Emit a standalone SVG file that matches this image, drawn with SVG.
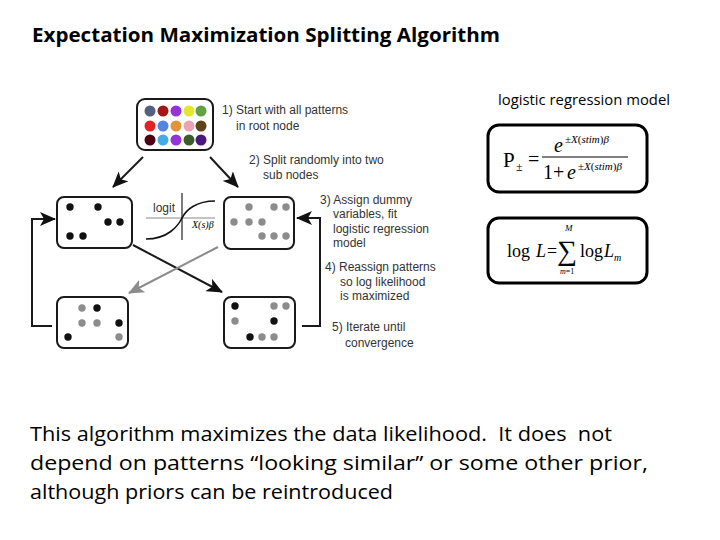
<svg xmlns="http://www.w3.org/2000/svg" width="720" height="540" viewBox="0 0 720 540">
<defs>
<style>
.node{fill:#fff;stroke:#1a1a1a;stroke-width:2}
.lbl{font-family:"Liberation Sans",Arial,sans-serif;font-size:12px;fill:#333}
.k{fill:#111}
.g{fill:#8c8c8c}
.fbox{fill:#fff;stroke:#000;stroke-width:3}
.math{font-family:"Liberation Serif","Times New Roman",serif;fill:#000}
.ital{font-style:italic}
.cb{font-family:"Open Sans",Lato,sans-serif;fill:#000}
.line{fill:none;stroke:#1a1a1a;stroke-width:2}
.gline{fill:none;stroke:#8c8c8c;stroke-width:2}
</style>
<marker id="ah" markerUnits="userSpaceOnUse" markerWidth="16" markerHeight="14" refX="15" refY="7" orient="auto" viewBox="0 0 16 14">
<path d="M0,0 L16,7 L0,14 L4,7 z" fill="#111"/>
</marker>
<marker id="ahg" markerUnits="userSpaceOnUse" markerWidth="16" markerHeight="14" refX="15" refY="7" orient="auto" viewBox="0 0 16 14">
<path d="M0,0 L16,7 L0,14 L4,7 z" fill="#8c8c8c"/>
</marker>
</defs>
<rect width="720" height="540" fill="#fff"/>

<text class="cb" x="32" y="42" font-size="19" font-weight="bold" textLength="468" lengthAdjust="spacingAndGlyphs">Expectation Maximization Splitting Algorithm</text>

<g id="root">
<rect class="node" x="137" y="99" width="76" height="51" rx="8"/>
<circle cx="150" cy="111" r="5.5" fill="#556080"/>
<circle cx="163" cy="111" r="5.5" fill="#a01818"/>
<circle cx="176" cy="111" r="5.5" fill="#9434d4"/>
<circle cx="189" cy="111" r="5.5" fill="#e6e632"/>
<circle cx="201" cy="111" r="5.5" fill="#64a044"/>
<circle cx="150" cy="126" r="5.5" fill="#e02424"/>
<circle cx="163" cy="126" r="5.5" fill="#5484e0"/>
<circle cx="176" cy="126" r="5.5" fill="#e49434"/>
<circle cx="189" cy="126" r="5.5" fill="#e8a4b4"/>
<circle cx="201" cy="126" r="5.5" fill="#5c4418"/>
<circle cx="150" cy="140" r="5.5" fill="#4c0010"/>
<circle cx="163" cy="140" r="5.5" fill="#44ace4"/>
<circle cx="176" cy="140" r="5.5" fill="#9434d4"/>
<circle cx="189" cy="140" r="5.5" fill="#3c5c2c"/>
<circle cx="201" cy="140" r="5.5" fill="#4c1880"/>
</g>

<g id="leftSub">
<rect class="node" x="57" y="197" width="75" height="51" rx="7"/>
<circle class="k" cx="70" cy="207" r="3.7"/>
<circle class="k" cx="98" cy="207" r="3.7"/>
<circle class="k" cx="108" cy="222" r="3.7"/>
<circle class="k" cx="120" cy="222" r="3.7"/>
<circle class="k" cx="70" cy="236" r="3.7"/>
<circle class="k" cx="83" cy="236" r="3.7"/>
</g>

<g id="rightSub">
<rect class="node" x="224" y="197" width="70" height="52" rx="7"/>
<circle class="g" cx="249" cy="207" r="3.7"/>
<circle class="g" cx="274" cy="207" r="3.7"/>
<circle class="g" cx="286" cy="207" r="3.7"/>
<circle class="g" cx="234" cy="222" r="3.7"/>
<circle class="g" cx="249" cy="222" r="3.7"/>
<circle class="g" cx="262" cy="222" r="3.7"/>
<circle class="g" cx="262" cy="236" r="3.7"/>
<circle class="g" cx="274" cy="236" r="3.7"/>
<circle class="g" cx="286" cy="236" r="3.7"/>
</g>

<g id="leftBottom">
<rect class="node" x="57" y="297" width="71" height="51" rx="7"/>
<circle class="g" cx="82" cy="308" r="3.7"/>
<circle class="k" cx="97" cy="308" r="3.7"/>
<circle class="g" cx="82" cy="323" r="3.7"/>
<circle class="g" cx="97" cy="323" r="3.7"/>
<circle class="k" cx="119" cy="323" r="3.7"/>
<circle class="k" cx="68" cy="337" r="3.7"/>
<circle class="g" cx="119" cy="337" r="3.7"/>
</g>

<g id="rightBottom">
<rect class="node" x="224" y="297" width="71" height="51" rx="7"/>
<circle class="k" cx="235" cy="306" r="3.7"/>
<circle class="g" cx="274" cy="306" r="3.7"/>
<circle class="g" cx="286" cy="306" r="3.7"/>
<circle class="g" cx="235" cy="321" r="3.7"/>
<circle class="k" cx="274" cy="321" r="3.7"/>
<circle class="k" cx="250" cy="337" r="3.7"/>
<circle class="g" cx="262" cy="337" r="3.7"/>
<circle class="g" cx="274" cy="337" r="3.7"/>
</g>

<g id="logitInset">
<line x1="146" y1="218" x2="215" y2="218" stroke="#888" stroke-width="1"/>
<line x1="182" y1="193" x2="182" y2="240" stroke="#222" stroke-width="1.2"/>
<path d="M146,239 C168,239 178,226 182,218 S196,201 215,201" fill="none" stroke="#111" stroke-width="1.6"/>
<text class="lbl" x="153" y="212" font-size="12">logit</text>
<text class="math ital" x="192" y="228" font-size="10">X(s)β</text>
</g>

<g id="connectors">
<line class="line" x1="143" y1="157" x2="113" y2="187" marker-end="url(#ah)"/>
<line class="line" x1="210" y1="157" x2="238" y2="187" marker-end="url(#ah)"/>
<line class="line" x1="133" y1="245" x2="222" y2="292" marker-end="url(#ah)"/>
<line class="gline" x1="218" y1="247" x2="129" y2="293" marker-end="url(#ahg)"/>
<path class="line" d="M52,326 H32 V219 H55" marker-end="url(#ah)"/>
<path class="line" d="M302,326 H320 V218 H297" marker-end="url(#ah)"/>
</g>

<g id="steps">
<text class="lbl" x="222" y="114">1) Start with all patterns</text>
<text class="lbl" x="236" y="130">in root node</text>
<text class="lbl" x="249" y="164">2) Split randomly into two</text>
<text class="lbl" x="263" y="179">sub nodes</text>
<text class="lbl" x="320" y="204">3) Assign dummy</text>
<text class="lbl" x="333" y="218">variables, fit</text>
<text class="lbl" x="333" y="233">logistic regression</text>
<text class="lbl" x="333" y="247">model</text>
<text class="lbl" x="325" y="271">4) Reassign patterns</text>
<text class="lbl" x="340" y="286">so log likelihood</text>
<text class="lbl" x="340" y="300">is maximized</text>
<text class="lbl" x="332" y="331">5) Iterate until</text>
<text class="lbl" x="345" y="347">convergence</text>
</g>

<text class="cb" x="498" y="105" font-size="14" textLength="172" lengthAdjust="spacingAndGlyphs">logistic regression model</text>

<g id="formula1">
<rect class="fbox" x="488" y="125" width="159" height="67" rx="11"/>
<text class="math" x="503" y="167" font-size="21">P</text>
<text class="math" x="516" y="171" font-size="12">±</text>
<text class="math" x="528" y="166" font-size="20">=</text>
<line x1="542" y1="157" x2="628" y2="157" stroke="#000" stroke-width="1.2"/>
<text class="math ital" x="554" y="152" font-size="20">e</text>
<text class="math" x="565" y="143" font-size="11"><tspan>±</tspan><tspan class="ital">X</tspan><tspan>(</tspan><tspan class="ital">stim</tspan><tspan>)</tspan><tspan class="ital">β</tspan></text>
<text class="math" x="543" y="179" font-size="20">1</text>
<text class="math" x="553" y="179" font-size="20">+</text>
<text class="math ital" x="567" y="179" font-size="20">e</text>
<text class="math" x="578" y="170" font-size="11"><tspan>±</tspan><tspan class="ital">X</tspan><tspan>(</tspan><tspan class="ital">stim</tspan><tspan>)</tspan><tspan class="ital">β</tspan></text>
</g>

<g id="formula2">
<rect class="fbox" x="488" y="218" width="159" height="65" rx="11"/>
<text class="math" x="507" y="257" font-size="18">log</text>
<text class="math ital" x="536" y="257" font-size="18">L</text>
<text class="math" x="547" y="257" font-size="18">=</text>
<text class="math" x="557" y="260" font-size="28">∑</text>
<text class="math ital" x="565" y="231" font-size="9">M</text>
<text class="math" x="560" y="274" font-size="8"><tspan class="ital">m</tspan>=1</text>
<text class="math" x="580" y="257" font-size="18">log</text>
<text class="math ital" x="604" y="257" font-size="18">L</text>
<text class="math ital" x="614" y="261" font-size="10">m</text>
</g>

<g id="caption" font-family="'Open Sans','Noto Sans',sans-serif" font-size="20" fill="#000">
<text x="30" y="441" textLength="582" lengthAdjust="spacingAndGlyphs" style="white-space:pre">This algorithm maximizes the data likelihood.  It does  not</text>
<text x="30" y="470" textLength="618" lengthAdjust="spacingAndGlyphs">depend on patterns “looking similar” or some other prior,</text>
<text x="30" y="499" textLength="363" lengthAdjust="spacingAndGlyphs">although priors can be reintroduced</text>
</g>
</svg>
